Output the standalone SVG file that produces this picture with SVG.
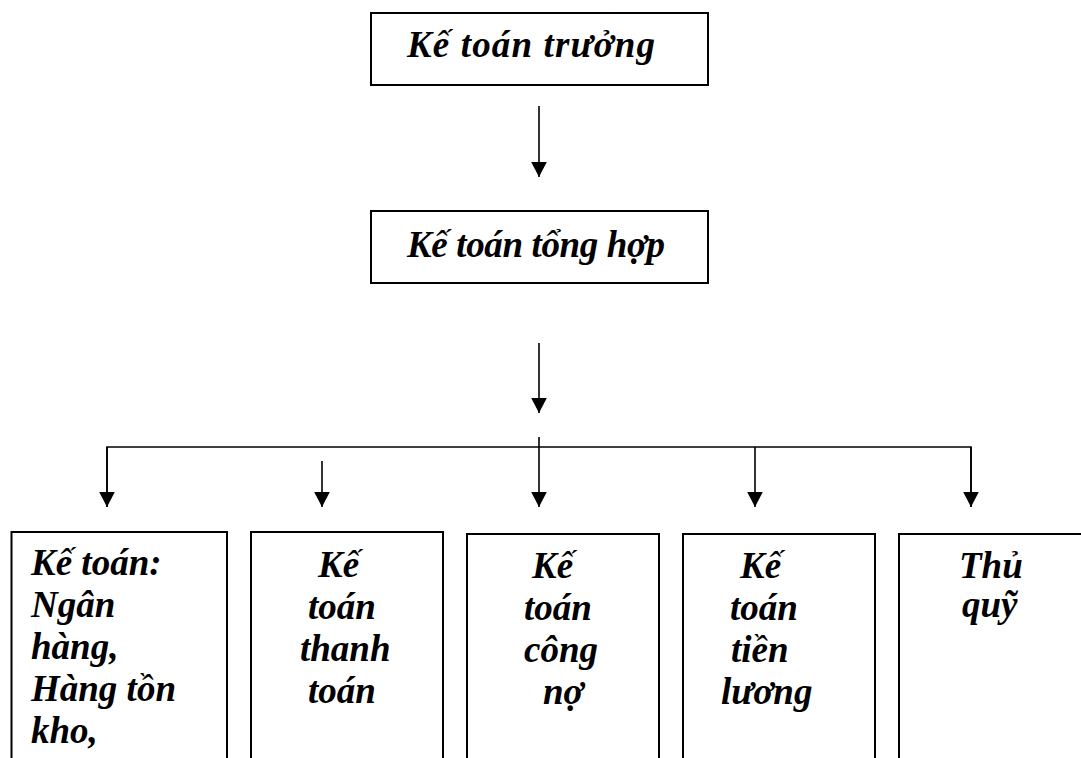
<svg xmlns="http://www.w3.org/2000/svg" width="1081" height="758" viewBox="0 0 1081 758">
<defs>
<marker id="ah" markerUnits="userSpaceOnUse" markerWidth="16" markerHeight="16" refX="15" refY="7.8" orient="auto">
<path d="M0,0 L15,7.8 L0,15.6 z" fill="#000"/>
</marker>
<style>
.box{fill:#fff;stroke:#000;stroke-width:2}
.t{font-family:"Liberation Serif","Times New Roman",serif;font-weight:bold;font-style:italic;font-size:37px;fill:#000}
.c{fill:none;stroke:#000;stroke-width:1.6}
</style>
</defs>
<rect width="1081" height="758" fill="#fff"/>
<g id="connectors">
<line class="c" x1="539" y1="106" x2="539" y2="177" marker-end="url(#ah)"/>
<line class="c" x1="539" y1="343" x2="539" y2="413" marker-end="url(#ah)"/>
<polyline class="c" points="107,507 107,447 971,447 971,507"/>
<line class="c" x1="107" y1="447" x2="107" y2="507" marker-end="url(#ah)"/>
<line class="c" x1="971" y1="447" x2="971" y2="507" marker-end="url(#ah)"/>
<line class="c" x1="322" y1="461" x2="322" y2="507" marker-end="url(#ah)"/>
<line class="c" x1="539" y1="437" x2="539" y2="507" marker-end="url(#ah)"/>
<line class="c" x1="755" y1="447" x2="755" y2="507" marker-end="url(#ah)"/>
</g>
<g id="ke-toan-truong">
<rect class="box" x="371" y="13" width="337" height="72"/>
<text class="t" x="407" y="57" textLength="248" lengthAdjust="spacing">Kế toán trưởng</text>
</g>
<g id="ke-toan-tong-hop">
<rect class="box" x="371" y="211" width="337" height="72"/>
<text class="t" x="407" y="257" textLength="258" lengthAdjust="spacing">Kế toán tổng hợp</text>
</g>
<g id="ke-toan-ngan-hang">
<rect class="box" x="11.5" y="532" width="215.5" height="240"/>
<text class="t"><tspan x="31" y="575">Kế toán:</tspan><tspan x="31" y="617">Ngân</tspan><tspan x="31" y="659">hàng,</tspan><tspan x="31" y="701">Hàng tồn</tspan><tspan x="31" y="743">kho,</tspan></text>
</g>
<g id="ke-toan-thanh-toan">
<rect class="box" x="251" y="532" width="192" height="240"/>
<text class="t"><tspan x="318" y="577">Kế</tspan><tspan x="308" y="619">toán</tspan><tspan x="300" y="661">thanh</tspan><tspan x="308" y="703">toán</tspan></text>
</g>
<g id="ke-toan-cong-no">
<rect class="box" x="467" y="534" width="192" height="240"/>
<text class="t"><tspan x="532" y="578">Kế</tspan><tspan x="524" y="620">toán</tspan><tspan x="524" y="662">công</tspan><tspan x="543" y="704">nợ</tspan></text>
</g>
<g id="ke-toan-tien-luong">
<rect class="box" x="683" y="534" width="192" height="240"/>
<text class="t"><tspan x="740" y="578">Kế</tspan><tspan x="730" y="620">toán</tspan><tspan x="731" y="662">tiền</tspan><tspan x="721" y="704">lương</tspan></text>
</g>
<g id="thu-quy">
<rect class="box" x="899" y="534" width="200" height="240"/>
<text class="t"><tspan x="959" y="578">Thủ</tspan><tspan x="962" y="617">quỹ</tspan></text>
</g>
</svg>
